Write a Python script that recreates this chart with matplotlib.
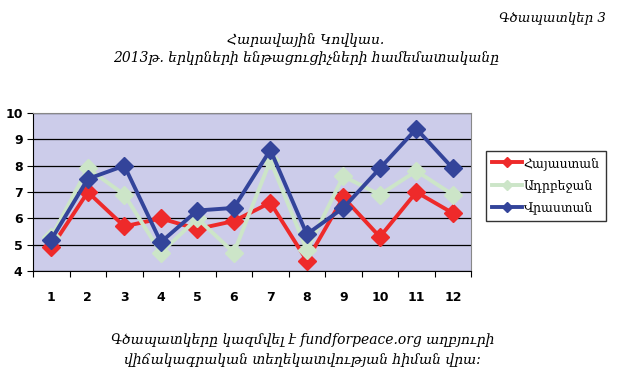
import matplotlib
matplotlib.use("Agg")
import matplotlib.pyplot as plt

# Data
years = list(range(1, 13))
armenia = [4.9, 7.0, 5.7, 6.0, 5.6, 5.9, 6.6, 4.4, 6.8, 5.3, 7.0, 6.2]
azerbaijan = [5.3, 7.9, 6.9, 4.7, 6.0, 4.7, 8.2, 4.8, 7.6, 6.9, 7.8, 6.9]
georgia = [5.2, 7.5, 8.0, 5.1, 6.3, 6.4, 8.6, 5.4, 6.4, 7.9, 9.4, 7.9]
series_names = ["Հայաստան", "Ադրբեջան", "Վրաստան"]
series_colors = ["#EE2A2A", "#CCE5C8", "#33449A"]

SERIF = ["DejaVu Serif", "DejaVu Sans"]

fig = plt.figure(figsize=(6.24, 3.83), dpi=100, facecolor="white")
ax = fig.add_axes([0.053, 0.292, 0.702, 0.413])
ax.set_facecolor("#CCCCEA")

for vals, name, col in zip([armenia, azerbaijan, georgia], series_names, series_colors):
    ax.plot(years, vals, color=col, linewidth=2.8, marker="D", markersize=9,
            markeredgecolor=col, label=name)

ax.set_xlim(0.5, 12.5)
ax.set_ylim(4, 10)
ax.set_yticks(range(4, 11))
ax.yaxis.grid(True, color="black", linewidth=0.9)
ax.set_axisbelow(True)

# category ticks between points, labels at points
ax.set_xticks([x + 0.5 for x in range(0, 13)])
ax.set_xticklabels([])
ax.set_xticks(years, minor=True)
ax.set_xticklabels([str(y) for y in years], minor=True, fontweight="bold", fontsize=9)
ax.tick_params(axis="x", which="minor", length=0, pad=14)
ax.tick_params(axis="x", which="major", length=4, direction="out", color="black")
ax.tick_params(axis="y", length=4, direction="out", labelsize=9)
for lbl in ax.get_yticklabels():
    lbl.set_fontweight("bold")

for side in ["top", "right"]:
    ax.spines[side].set_color("#888888")
ax.spines["left"].set_color("black")
ax.spines["bottom"].set_color("black")

leg = ax.legend(loc="center left", bbox_to_anchor=(1.02, 0.54), frameon=True,
                fancybox=False, edgecolor="black", handlelength=2.4,
                handletextpad=0.1, borderpad=0.5, labelspacing=0.75,
                prop={"family": SERIF, "size": 9})
leg.get_frame().set_linewidth(1.0)
for h in leg.legend_handles:
    h.set_markersize(5)

fig.text(0.886, 0.953, "Գծապատկեր 3", ha="center", va="center",
         family=SERIF, style="italic", fontsize=9.5)
fig.text(0.49, 0.895, "Հարավային Կովկաս.", ha="center", va="center",
         family=SERIF, style="italic", fontsize=10)
fig.text(0.49, 0.848, "2013թ. երկրների ենթացուցիչների համեմատականը", ha="center",
         va="center", family=SERIF, style="italic", fontsize=10)
fig.text(0.485, 0.112, "Գծապատկերը կազմվել է fundforpeace.org աղբյուրի",
         ha="center", va="center", family=SERIF, style="italic", fontsize=10)
fig.text(0.485, 0.06, "վիճակագրական տեղեկատվության հիման վրա:",
         ha="center", va="center", family=SERIF, style="italic", fontsize=10)

fig.savefig("out.png", dpi=100, facecolor="white")
